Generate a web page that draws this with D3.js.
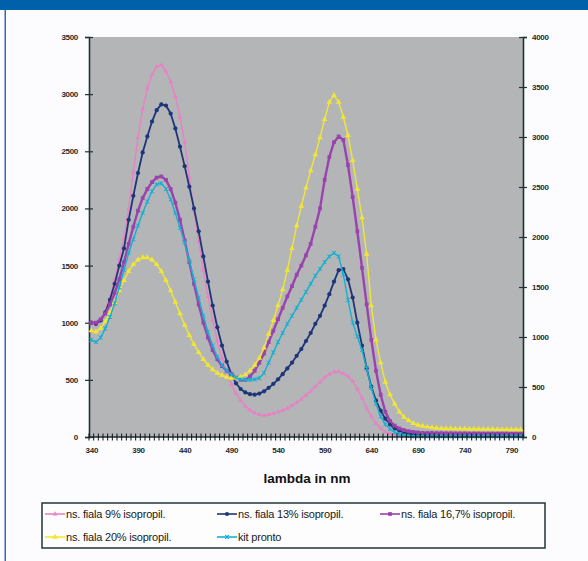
<!DOCTYPE html>
<html><head><meta charset="utf-8">
<script src="https://cdn.jsdelivr.net/npm/d3@7"></script>
<style>
html,body{margin:0;padding:0;background:#fcfcfe;}
svg{display:block;}
</style></head>
<body>
<svg id="c" width="588" height="561"></svg>
<script>
// ---- data ----
const categories = d3.range(340, 805, 5); // wavelength in nm, 340..800
const xTickLabels = [340, 390, 440, 490, 540, 590, 640, 690, 740, 790];
const leftTicks = [0, 500, 1000, 1500, 2000, 2500, 3000, 3500];
const rightTicks = [0, 500, 1000, 1500, 2000, 2500, 3000, 3500, 4000];
const seriesNames = ["ns. fiala 9% isopropil.", "ns. fiala 13% isopropil.", "ns. fiala 16,7% isopropil.", "ns. fiala 20% isopropil.", "kit pronto"];

const fiala9 = [1000,980,1020,1100,1220,1380,1560,1740,2000,2320,2620,2870,3050,3170,3240,3255,3200,3110,2980,2800,2580,2270,1980,1710,1460,1230,1020,840,690,560,460,380,320,270,235,210,195,190,195,205,220,232,250,275,300,330,365,400,440,480,520,550,570,572,555,530,490,420,340,250,180,120,75,45,30,20,15,
12,10,10,10,10,10,10,10,10,10,10,10,10,10,10,10,10,10,10,10,10,10,10,10,10,10];
const fiala13 = [1000,990,1020,1090,1200,1340,1500,1650,1900,2110,2310,2490,2630,2760,2860,2910,2900,2830,2700,2540,2370,2190,2000,1800,1580,1360,1150,960,800,660,550,470,420,390,375,370,380,400,430,465,505,550,600,650,710,770,840,910,990,1060,1150,1250,1360,1460,1470,1380,1220,1000,800,600,440,320,230,160,110,75,55,40,30,25,20,
15,15,15,15,15,15,15,15,15,15,15,15,15,15,15,15,15,15,15,15,15,15];
const fiala167 = [1000,1000,1030,1080,1160,1260,1380,1530,1690,1840,1980,2090,2170,2230,2270,2280,2250,2170,2050,1900,1720,1530,1340,1160,1000,870,760,680,620,580,550,520,500,500,530,580,650,730,830,930,1030,1130,1230,1320,1420,1500,1590,1690,1840,2000,2250,2450,2580,2630,2600,2380,2100,1800,1480,1160,850,580,370,220,140,100,75,60,50,45,40,
36,35,35,34,34,33,33,32,32,32,31,31,31,30,30,30,30,30,30,30,30,30];
const fiala20 = [930,920,950,1010,1090,1180,1280,1370,1450,1510,1550,1570,1570,1550,1510,1450,1370,1280,1180,1080,980,890,810,740,680,630,590,560,540,525,515,515,525,545,580,630,690,780,900,1020,1150,1290,1460,1650,1850,2020,2180,2330,2470,2620,2780,2930,2990,2930,2800,2640,2420,2170,1920,1600,1150,850,650,480,370,290,220,175,145,120,105,95,88,82,78,
75,74,73,72,72,71,70,70,70,69,68,68,67,66,66,65,65,65];
const kitPronto = [850,830,870,950,1050,1170,1310,1460,1610,1730,1850,1960,2060,2150,2210,2220,2170,2080,1960,1830,1700,1540,1380,1220,1060,920,800,700,630,580,545,520,505,500,500,505,515,560,650,740,830,910,990,1060,1130,1200,1270,1340,1410,1470,1530,1580,1610,1580,1420,1200,1000,880,760,600,430,290,180,110,70,40,25,15,10,
5,5,5,5,5,5,5,5,5,5,5,5,5,5,5,5,5,5,5,5,5,5,5,5];

// ---- layout ----
const svg = d3.select("#c");
const W = 588, H = 561;
const plot = {l: 89, r: 523, t: 37, b: 437};

svg.append("rect").attr("x",0).attr("y",0).attr("width",W).attr("height",H).attr("fill","#fcfcfe");
svg.append("rect").attr("x",0).attr("y",0).attr("width",W).attr("height",10).attr("fill","#0061ab");
svg.append("rect").attr("x",4.5).attr("y",10).attr("width",1.5).attr("height",H-10).attr("fill","#2e6db3");

const x = d3.scaleBand().domain(categories).range([plot.l, plot.r]).paddingInner(0).paddingOuter(0);
const cx = c => x(c) + x.bandwidth()/2;
const yL = d3.scaleLinear().domain([0,3500]).range([plot.b, plot.t]);
const yR = d3.scaleLinear().domain([0,4000]).range([plot.b, plot.t]);

svg.append("rect").attr("x",plot.l).attr("y",plot.t).attr("width",plot.r-plot.l).attr("height",plot.b-plot.t)
  .attr("fill","#b3b5b7");

const tickFont = "'Liberation Sans Narrow','Liberation Sans',Arial,sans-serif";
const axisColor = "#1c3338";
const fmt = d3.format("d");

// left axis
const gL = svg.append("g").attr("transform",`translate(${plot.l},0)`)
  .call(d3.axisLeft(yL).tickValues(leftTicks).tickFormat(fmt).tickSize(4).tickPadding(7));
gL.select(".domain").attr("stroke",axisColor).attr("stroke-width",1.6);
gL.selectAll(".tick line").attr("x1",4).attr("stroke",axisColor).attr("stroke-width",1.2);
gL.selectAll(".tick text").attr("font-family",tickFont).attr("font-size",8).attr("fill","#2a2a2a").attr("font-weight","bold").attr("letter-spacing",-0.3);

// right axis
const gR = svg.append("g").attr("transform",`translate(${plot.r},0)`)
  .call(d3.axisRight(yR).tickValues(rightTicks).tickFormat(fmt).tickSize(4).tickPadding(5));
gR.select(".domain").attr("stroke",axisColor).attr("stroke-width",1.6);
gR.selectAll(".tick line").attr("x1",-4).attr("stroke",axisColor).attr("stroke-width",1.2);
gR.selectAll(".tick text").attr("font-family",tickFont).attr("font-size",8).attr("fill","#2a2a2a").attr("font-weight","bold").attr("letter-spacing",-0.3);

// bottom axis: labels
const gB = svg.append("g").attr("transform",`translate(0,${plot.b})`)
  .call(d3.axisBottom(d3.scalePoint().domain(categories).range([cx(categories[0]), cx(categories[categories.length-1])]))
    .tickValues(xTickLabels).tickFormat(fmt).tickSize(0).tickPadding(10));
gB.select(".domain").remove();
gB.selectAll(".tick text").attr("font-family",tickFont).attr("font-size",8).attr("fill","#2a2a2a").attr("font-weight","bold").attr("letter-spacing",-0.3);

// series
const series = [
  {name: seriesNames[0], values: fiala9,  color: "#e882c4", width: 1.4, marker: "tri",  msize: 10, mfill: "#e882c4"},
  {name: seriesNames[1], values: fiala13, color: "#1d3579", width: 1.8, marker: "dot",  msize: 14, mfill: "#1d3579"},
  {name: seriesNames[2], values: fiala167,color: "#9a42ad", width: 2.4, marker: "sq",   msize: 14, mfill: "#9a42ad"},
  {name: seriesNames[3], values: fiala20, color: "#f2e635", width: 1.4, marker: "tri",  msize: 14, mfill: "#f2e635"},
  {name: seriesNames[4], values: kitPronto,color:"#14b0d4", width: 1.4, marker: "x",    msize: 4,  mfill: "none"}
];

function markerPath(m, s){
  if (m === "tri") return d3.symbol(d3.symbolTriangle, s)();
  if (m === "dot") return d3.symbol(d3.symbolCircle, s)();
  if (m === "sq") return d3.symbol(d3.symbolSquare, s)();
  if (m === "x") { const h = s/2; return `M${-h},${-h}L${h},${h}M${-h},${h}L${h},${-h}M0,${-h}L0,${h}`; }
  return "";
}

const line = d3.line().x((d,i) => cx(categories[i])).y(d => yL(d)).curve(d3.curveLinear);
const gS = svg.append("g");
series.forEach(s => {
  gS.append("path").datum(s.values).attr("d", line).attr("fill","none")
    .attr("stroke", s.color).attr("stroke-width", s.width).attr("stroke-linejoin","round");
  gS.append("g").selectAll("path").data(s.values).join("path")
    .attr("transform",(d,i) => `translate(${cx(categories[i])},${yL(d)})`)
    .attr("d", markerPath(s.marker, s.msize))
    .attr("fill", s.mfill).attr("stroke", s.marker === "x" ? s.color : "none").attr("stroke-width", 1);
});

// bottom axis line and category boundary ticks (drawn over series)
svg.append("line").attr("x1",plot.l).attr("x2",plot.r).attr("y1",plot.b).attr("y2",plot.b)
  .attr("stroke",axisColor).attr("stroke-width",1.6);
const bounds = categories.map(c => x(c)).concat([x(categories[categories.length-1]) + x.bandwidth()]);
svg.append("g").selectAll("line").data(bounds).join("line")
  .attr("x1", d => d).attr("x2", d => d).attr("y1", plot.b-3.5).attr("y2", plot.b+3.5)
  .attr("stroke", "#111").attr("stroke-width", 1);

// axis title
svg.append("text").attr("x", 307).attr("y", 483).attr("text-anchor","middle")
  .attr("font-family","'Liberation Sans',Arial,sans-serif").attr("font-weight","bold").attr("font-size",13.5)
  .attr("fill","#111").text("lambda in nm");

// legend
const lg = svg.append("g");
lg.append("rect").attr("x",42).attr("y",503).attr("width",503).attr("height",45)
  .attr("fill","#fdfdfd").attr("stroke","#22343a").attr("stroke-width",1.5);
const legendPos = [[45,514],[217,514],[380,514],[45,537],[217,537]];
series.forEach((s,i) => {
  const [lx, ly] = legendPos[i];
  const g = lg.append("g").attr("transform",`translate(${lx},${ly})`);
  g.append("line").attr("x1",0).attr("x2",20).attr("y1",0).attr("y2",0).attr("stroke",s.color).attr("stroke-width",1.6);
  g.append("path").attr("transform","translate(10,0)").attr("d", markerPath(s.marker, s.msize))
    .attr("fill", s.mfill).attr("stroke", s.marker === "x" ? s.color : "none").attr("stroke-width",1);
  g.append("text").attr("x",21).attr("y",4).attr("font-family","'Liberation Sans',Arial,sans-serif")
    .attr("font-size",11).attr("fill","#1a1a1a").attr("letter-spacing",-0.2).text(s.name);
});
</script>
</body></html>
